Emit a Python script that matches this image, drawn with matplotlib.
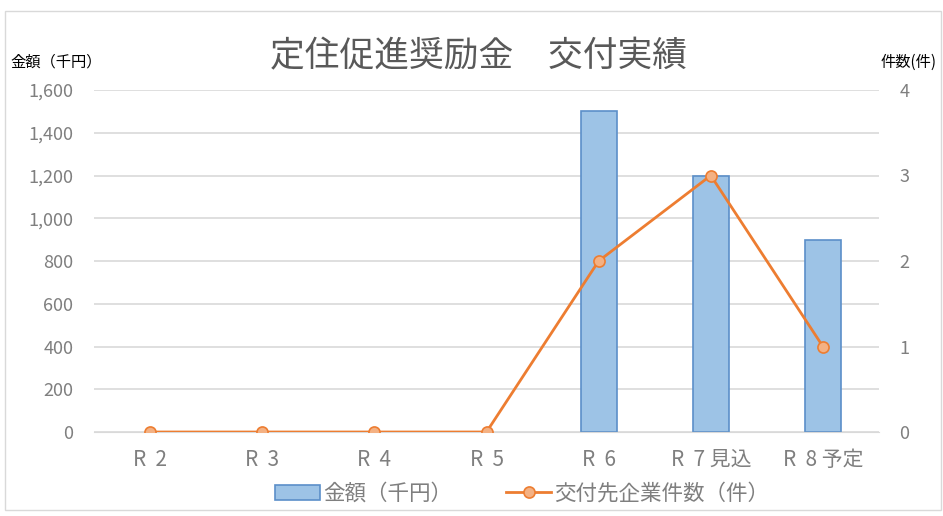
import matplotlib.pyplot as plt
from matplotlib.patches import Rectangle, Patch
from matplotlib.ticker import FuncFormatter

plt.rcParams['font.family'] = ['Noto Sans CJK JP', 'DejaVu Sans']

categories = ["R  2", "R  3", "R  4", "R  5", "R  6", "R  7 見込", "R  8 予定"]
amount = [0, 0, 0, 0, 1500, 1200, 900]      # 金額（千円）
count = [0, 0, 0, 0, 2, 3, 1]                # 交付先企業件数（件）

TEXT = "#595959"
TICK = "#7f7f7f"
GRID = "#d9d9d9"
BAR_FACE = "#9dc3e6"
BAR_EDGE = "#5b8fc9"

fig = plt.figure(figsize=(9.43, 5.16), dpi=100)
ax = fig.add_axes([94 / 943, 1 - 432 / 516, (879 - 94) / 943, (432 - 90) / 516])
ax2 = ax.twinx()

x = list(range(len(categories)))
# zero bars are not drawn with an outline (Excel style)
ax.bar(x, amount, width=0.32, color=BAR_FACE, edgecolor=BAR_EDGE,
       linewidth=[1.2 if v else 0 for v in amount], zorder=2)
line, = ax2.plot(x, count, color="#ed7d31", lw=2, marker="o", ms=8,
                 markerfacecolor="#f4b183", markeredgecolor="#ed7d31", mew=1.2,
                 zorder=3)

ax.set_xlim(-0.5, len(categories) - 0.5)
ax.set_ylim(0, 1600)
ax.set_yticks(range(0, 1601, 200))
ax.yaxis.set_major_formatter(FuncFormatter(lambda v, p: f"{int(v):,}"))
ax2.set_ylim(0, 4)
ax2.set_yticks(range(0, 5))

ax.set_xticks(x)
ax.set_xticklabels(categories)
ax.grid(axis="y", color=GRID, lw=1.2, zorder=0)
ax.set_axisbelow(True)

for a in (ax, ax2):
    for s in a.spines.values():
        s.set_visible(False)
    a.tick_params(length=0, colors=TICK, labelsize=13)
ax.spines["bottom"].set_visible(True)
ax.spines["bottom"].set_color(GRID)
ax.tick_params(axis="x", pad=12, labelsize=15)
ax.tick_params(axis="y", pad=15)
ax2.tick_params(axis="y", pad=14.5)

fig.text(479 / 943, 1 - 57 / 516, "定住促進奨励金　交付実績", ha="center", va="center",
         fontsize=25, color=TEXT)
fig.text(10 / 943, 1 - 62 / 516, "金額（千円）", ha="left", va="center",
         fontsize=11, color="black")
fig.text(937 / 943, 1 - 62 / 516, "件数(件)", ha="right", va="center",
         fontsize=11, color="black")

bar_handle = Patch(facecolor=BAR_FACE, edgecolor=BAR_EDGE, lw=1.2)
fig.legend([bar_handle, line], ["金額（千円）", "交付先企業件数（件）"],
           loc="center", bbox_to_anchor=(522 / 943, 1 - 494 / 516),
           ncol=2, frameon=False, fontsize=15.5, labelcolor=TICK,
           handlelength=2.1, columnspacing=2.5, handletextpad=0.15,
           borderpad=0)

fig.patches.append(Rectangle((5 / 943, 6 / 516), 936 / 943, 499 / 516,
                             transform=fig.transFigure, fill=False,
                             edgecolor=GRID, lw=1))

fig.savefig("out.png", dpi=100)
